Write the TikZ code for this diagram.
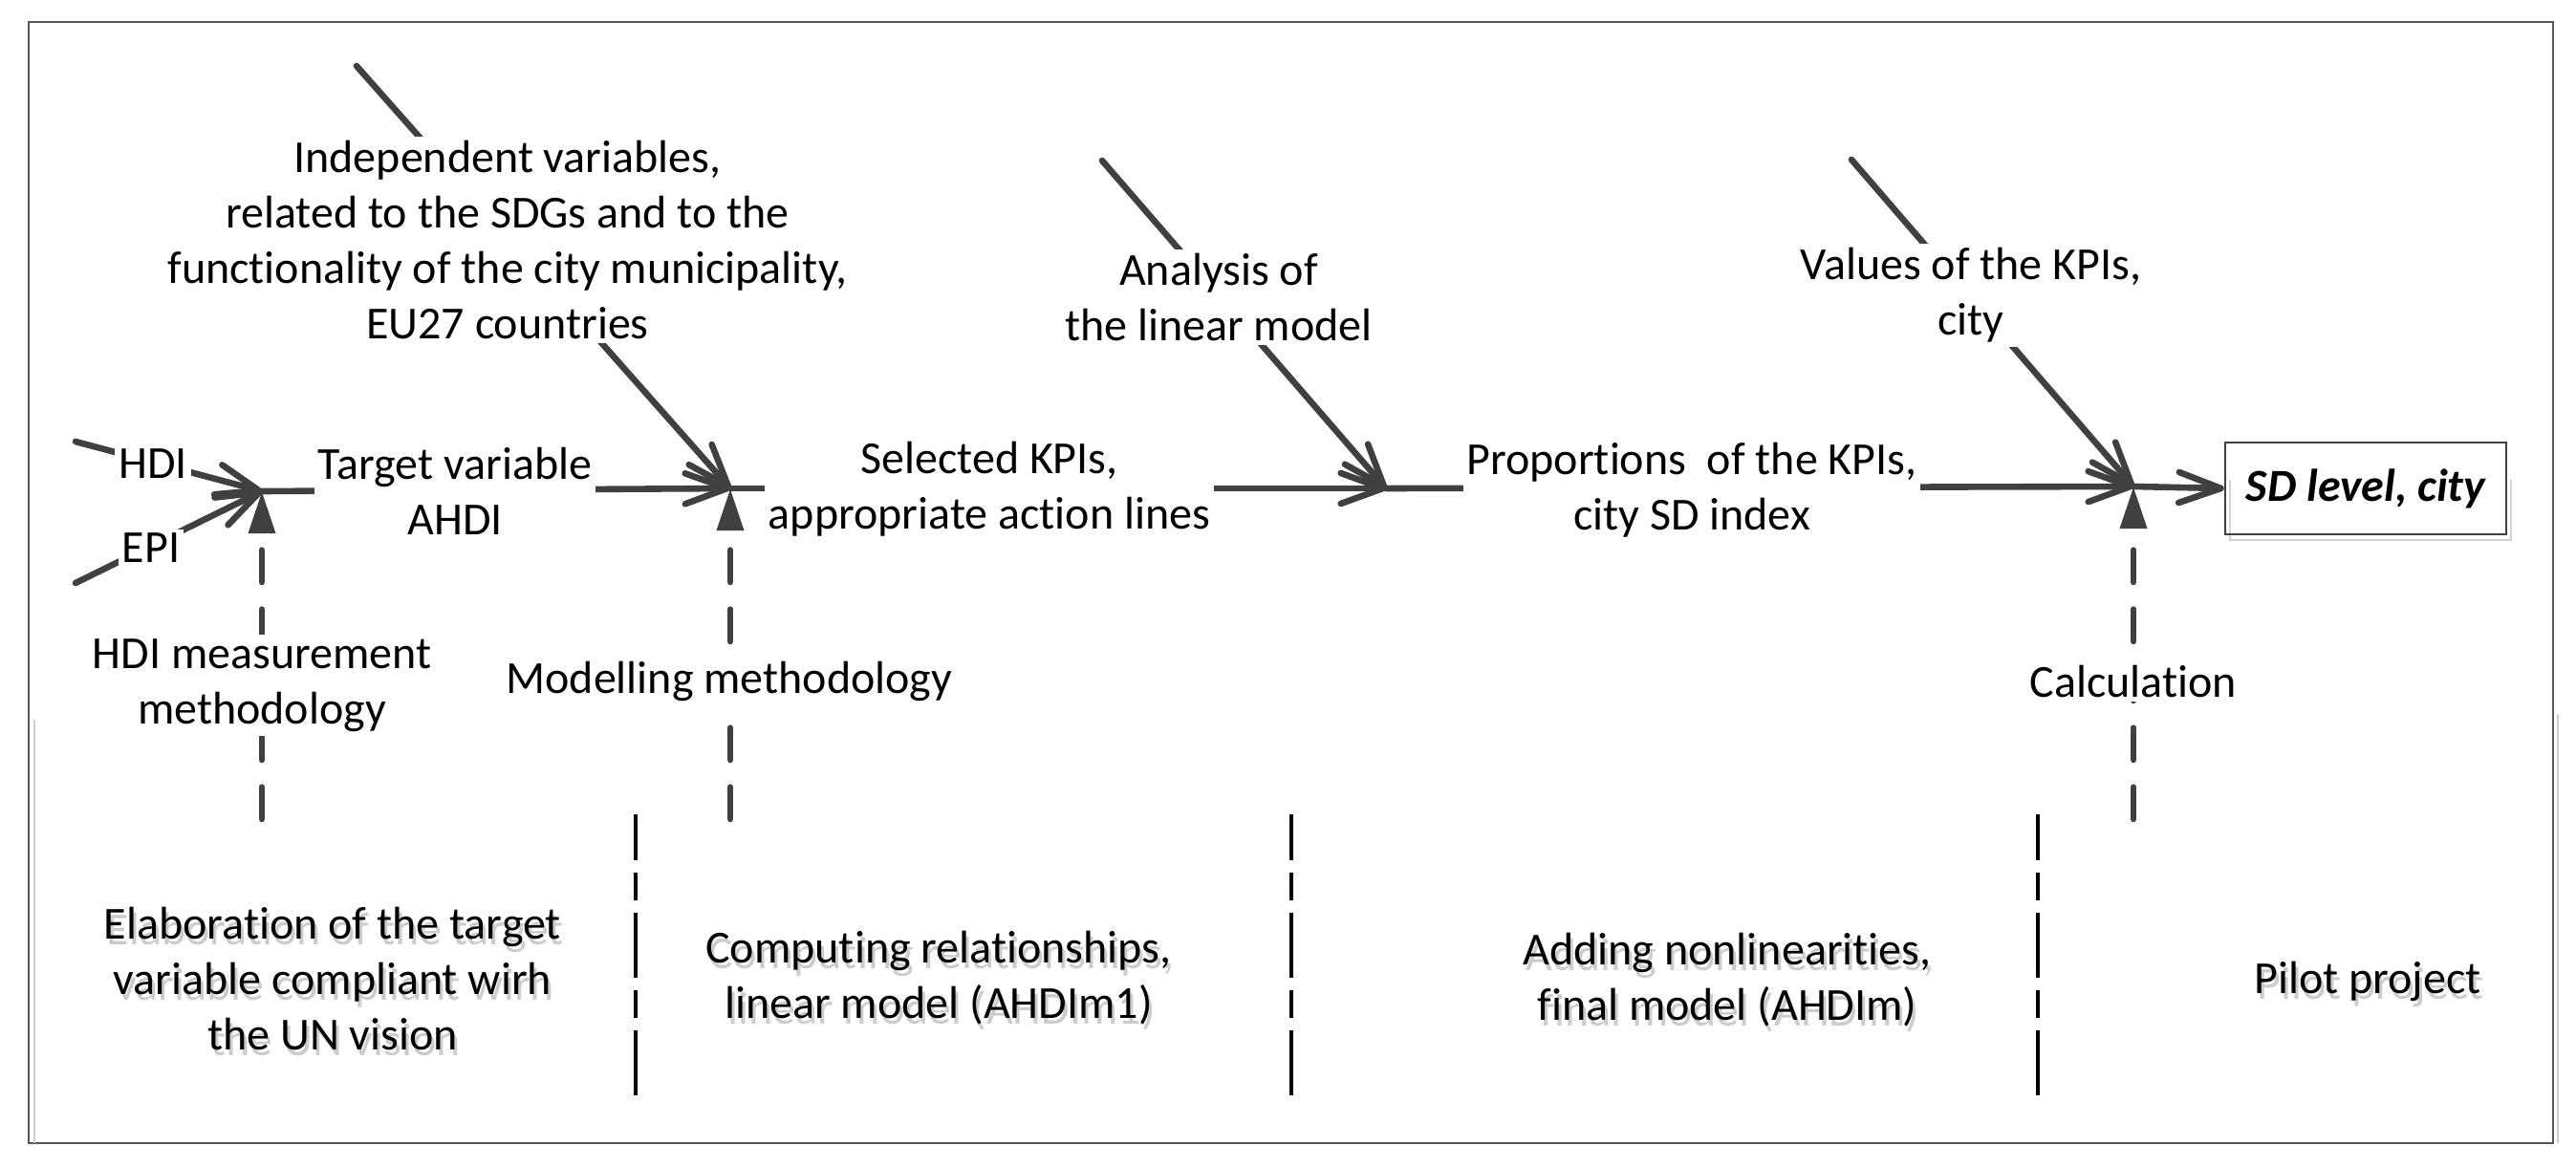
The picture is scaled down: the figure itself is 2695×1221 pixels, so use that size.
\documentclass[tikz,border=0pt]{standalone}
\usepackage{fontspec}
\setmainfont{Carlito}[Ligatures=NoCommon]
\usetikzlibrary{arrows.meta}
\definecolor{ln}{HTML}{404040}
\definecolor{frm}{HTML}{555555}
\begin{document}
\begin{tikzpicture}[x=0.5pt,y=-0.5pt,
  flow/.style={draw=ln, line width=3.3pt, line cap=round},
  arr/.style={flow, -{Straight Barb[length=22pt,width=16pt,round]}},
  ctrl/.style={draw=ln, line width=3.3pt, line cap=round, dash pattern=on 16.7pt off 14.3pt, -{Triangle[length=22pt,width=13.5pt]}},
  divline/.style={draw=black, line width=2pt, dash pattern=on 34pt off 6.5pt on 14.5pt off 6.5pt, dash phase=10pt},
  lbl/.style={fill=white, inner sep=2pt, align=center, font=\fontsize{24}{29}\selectfont},
  btm/.style={inner sep=0pt, align=center, font=\fontsize{24}{29}\selectfont},
  shd/.style={btm, text=gray!40},
]
\useasboundingbox (0,0) rectangle (2695,1221);
% frame
\draw[frm, line width=1.3pt] (30,23) rectangle (2671,1196);
\draw[gray!40, line width=1pt] (36,753) -- (36,1196);
\draw[gray!40, line width=1pt] (2676,747) -- (2676,1196);

% junctions and end points
\coordinate (j1) at (274,514);
\coordinate (j2) at (764,511);
\coordinate (j3) at (1450,511);
\coordinate (j4) at (2232,509);
\coordinate (hdiS) at (79,462);
\coordinate (epiS) at (79,610);
\coordinate (indS) at (373,69);
\coordinate (anaS) at (1153,168);
\coordinate (valS) at (1937,167);
\coordinate (c1) at (274,857);
\coordinate (c2) at (764,857);
\coordinate (c4) at (2232,857);

% output box
\draw[gray!35, line width=1.2pt] (2333,502) -- (2333,565) -- (2627,565) -- (2627,502);
\node[draw=ln, line width=1.2pt, fill=none, minimum width=147pt, minimum height=48pt, inner sep=0pt,
      font=\fontsize{24}{29}\selectfont\bfseries\itshape] (sd) at (2475,511) {SD level, city};

% flows
\draw[arr] (hdiS) -- (j1);
\draw[arr] (epiS) -- (j1);
\draw[arr] (j1) -- (j2);
\draw[arr] (indS) -- (j2);
\draw[arr] (j2) -- (j3);
\draw[arr] (anaS) -- (j3);
\draw[arr] (j3) -- (j4);
\draw[arr] (valS) -- (j4);
\draw[arr] (j4) -- (sd.west);

% controls
\draw[ctrl] (c1) -- (j1);
\draw[ctrl] (c2) -- (j2);
\draw[ctrl] (c4) -- (j4);

% labels on flows
\node[lbl] (hdi) at (160,485) {HDI};
\node[lbl] (epi) at (158,573) {EPI};
\node[lbl] (tv) at (476,514) {Target variable\\AHDI};
\node[lbl] (ind) at (531,251) {Independent variables,\\related to the SDGs and to the\\functionality of the city municipality,\\EU27 countries};
\node[lbl] (sel) at (1035,512) {Selected KPIs,\\appropriate action lines};
\node[lbl] (ana) at (1275,311) {Analysis of\\the linear model};
\node[lbl] (prop) at (1770,513) {Proportions\ \ of the KPIs,\\city SD index};
\node[lbl] (val) at (2062,309) {Values of the KPIs,\\city};
\node[lbl] (hdim) at (274,717) {HDI measurement\\methodology};
\node[lbl] (mod) at (763,713) {Modelling methodology};
\node[lbl] (calc) at (2232,713) {Calculation};

% dividers
\coordinate (d1t) at (665,852); \coordinate (d1b) at (665,1148);
\coordinate (d2t) at (1351,852); \coordinate (d2b) at (1351,1148);
\coordinate (d3t) at (2132,852); \coordinate (d3b) at (2132,1148);
\draw[divline] (d1t) -- (d1b);
\draw[divline] (d2t) -- (d2b);
\draw[divline] (d3t) -- (d3b);

% bottom phase labels with shadow
\node[shd] (elabS) at (351,1030) {Elaboration of the target\\variable compliant wirh\\the UN vision};
\node[btm] (elab) at (348,1024) {Elaboration of the target\\variable compliant wirh\\the UN vision};
\node[shd] (compS) at (985,1029) {Computing relationships,\\linear model (AHDIm1)};
\node[btm] (comp) at (982,1023) {Computing relationships,\\linear model (AHDIm1)};
\node[shd] (addS) at (1810,1031) {Adding nonlinearities,\\final model (AHDIm)};
\node[btm] (add) at (1807,1025) {Adding nonlinearities,\\final model (AHDIm)};
\node[shd] (pilS) at (2480,1033) {Pilot project};
\node[btm] (pil) at (2477,1027) {Pilot project};
\end{tikzpicture}
\end{document}
